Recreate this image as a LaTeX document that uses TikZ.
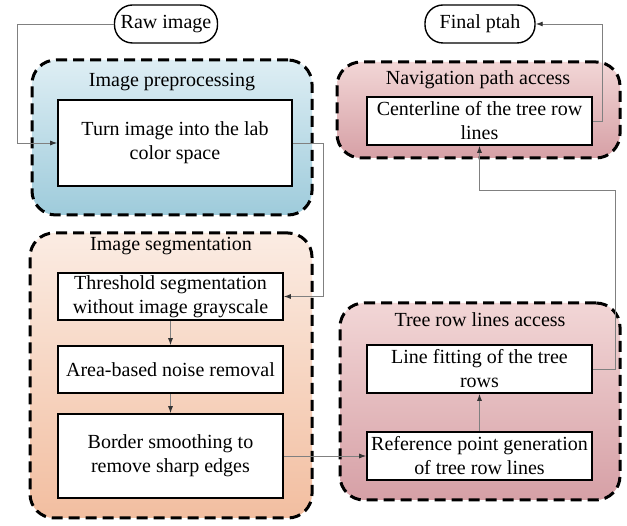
\documentclass[tikz,border=0pt]{standalone}
\usepackage{fontspec}
\setmainfont{Liberation Serif}
\usepackage{tikz}
\usetikzlibrary{arrows.meta,positioning}
\definecolor{linegray}{RGB}{128,128,128}
\definecolor{prepA}{RGB}{222,238,244}
\definecolor{prepB}{RGB}{158,203,219}
\definecolor{segA}{RGB}{251,236,227}
\definecolor{segB}{RGB}{242,190,160}
\definecolor{navA}{RGB}{242,214,214}
\definecolor{navB}{RGB}{214,160,166}
\tikzstyle{pbox}=[rectangle,draw=black,line width=1.6pt,fill=white,align=center,
                  inner sep=2pt]
\tikzstyle{term}=[rectangle,rounded corners=18pt,draw=black,line width=1.4pt,fill=white,
                  minimum height=38pt]
\tikzstyle{grp}=[rectangle,draw=black,line width=3pt,dash pattern=on 11pt off 6pt,
                 rounded corners=24pt]
\tikzstyle{arrow}=[-{Latex[length=7pt,width=5pt,color=black!80]},draw=linegray,line width=0.9pt]

\begin{document}
\begin{tikzpicture}[x=1pt,y=-1pt,font=\fontsize{20}{24}\selectfont]
      \useasboundingbox (0,0) rectangle (627,526);
      % groups
      \node[grp,top color=prepA,bottom color=prepB,minimum width=280pt,minimum height=155pt] (gprep) at (172,137.5) {};
      \node[grp,top color=segA,bottom color=segB,minimum width=282pt,minimum height=285pt] (gseg) at (171,375.5) {};
      \node[grp,top color=navA,bottom color=navB,minimum width=283pt,minimum height=96pt] (gnav) at (478.5,110) {};
      \node[grp,top color=navA,bottom color=navB,minimum width=280pt,minimum height=197pt] (gtree) at (480,401.5) {};
      \node (tprep) at (172,82) {Image preprocessing};
      \node (tseg) at (171,246) {Image segmentation};
      \node (tnav) at (478,80) {Navigation path access};
      \node (ttree) at (480,320) {Tree row lines access};
      % terminals
      \node[term,minimum width=103pt] (raw) at (166,24) {Raw image};
      \node[term,minimum width=110pt] (final) at (480,24) {Final ptah};
      % steps
      \node[pbox,minimum width=234pt,minimum height=86pt] (lab) at (175,143) {Turn image into the lab\\color space};
      \node[pbox,minimum width=225pt,minimum height=47pt] (thresh) at (170.5,296.5) {Threshold segmentation\\without image grayscale};
      \node[pbox,minimum width=225pt,minimum height=47pt] (noise) at (170.5,369.5) {Area-based noise removal};
      \node[pbox,minimum width=225pt,minimum height=84pt] (smooth) at (170.5,456) {Border smoothing to\\remove sharp edges};
      \node[pbox,minimum width=225pt,minimum height=48pt] (ref) at (479.5,456) {Reference point generation\\of tree row lines};
      \node[pbox,minimum width=225pt,minimum height=48pt] (fit) at (479.5,369) {Line fitting of the tree\\rows};
      \node[pbox,minimum width=225pt,minimum height=48pt] (cline) at (479.5,121) {Centerline of the tree row\\lines};
      % connectors
      \draw[arrow] (raw.west) -- (17,24) -- (17,143) -- (lab.west);
      \draw[arrow] (lab.east) -- (323,143) -- (323,296.5) -- (thresh.east);
      \draw[arrow] (thresh) -- (noise);
      \draw[arrow] (noise) -- (smooth);
      \draw[arrow] (smooth) -- (ref);
      \draw[arrow] (ref) -- (fit);
      \draw[arrow] (fit.east) -- (615,369) -- (615,190) -- (479.5,190) -- (cline.south);
      \draw[arrow] (cline.east) -- (602,121) -- (602,24) -- (final.east);
    \end{tikzpicture}
\end{document}
